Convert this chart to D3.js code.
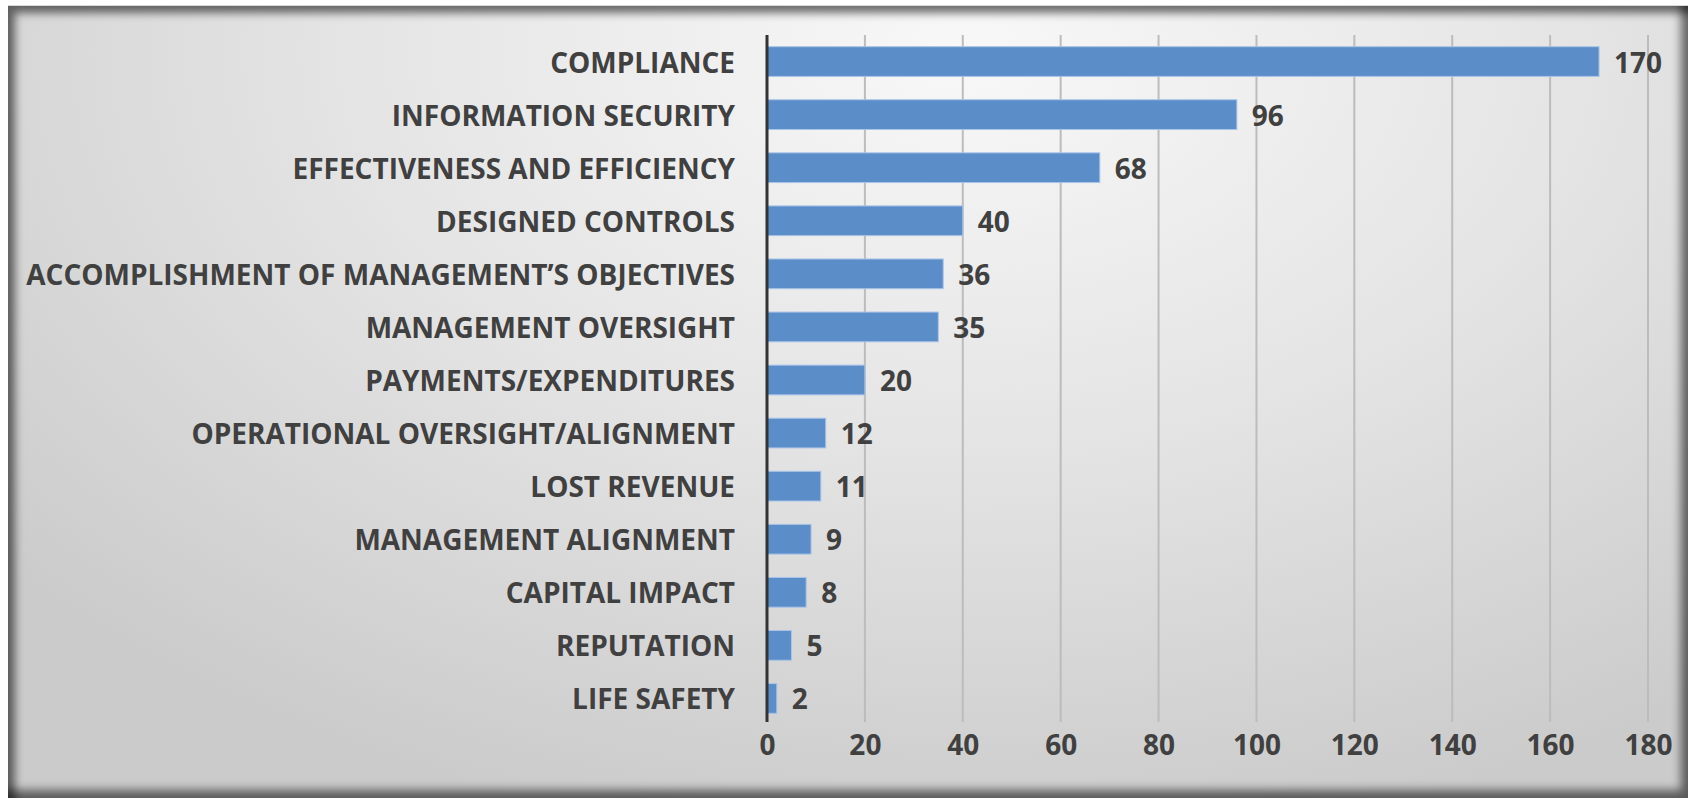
<!DOCTYPE html>
<html>
<head>
<meta charset="utf-8">
<script src="https://cdn.jsdelivr.net/npm/d3@7"></script>
<style>
  html, body { margin: 0; padding: 0; background: #ffffff; overflow: hidden; }
  #frame {
    position: absolute; left: 8px; top: 5px; width: 1680px; height: 792px;
    border-top: 1px solid #d8d8d8;
    background: radial-gradient(ellipse 75% 100% at 57% 6%, #f8f8f8 0%, #e4e4e4 50%, #cbcbcb 100%);
    box-shadow: inset 7px 7px 9px rgba(0,0,0,0.55), inset -7px -8px 10px rgba(0,0,0,0.55);
  }
  svg { position: absolute; left: 0; top: 0; }
  text { font-family: "Open Sans", "DejaVu Sans", sans-serif; font-weight: 700; fill: #404040; }
</style>
</head>
<body>
<div id="frame"></div>
<svg id="chart" width="1695" height="803"></svg>
<script>
// Categories, top to bottom, and their counts
const categories = [
  "COMPLIANCE",
  "INFORMATION SECURITY",
  "EFFECTIVENESS AND EFFICIENCY",
  "DESIGNED CONTROLS",
  "ACCOMPLISHMENT OF MANAGEMENT\u2019S OBJECTIVES",
  "MANAGEMENT OVERSIGHT",
  "PAYMENTS/EXPENDITURES",
  "OPERATIONAL OVERSIGHT/ALIGNMENT",
  "LOST REVENUE",
  "MANAGEMENT ALIGNMENT",
  "CAPITAL IMPACT",
  "REPUTATION",
  "LIFE SAFETY"
];
const values = [170, 96, 68, 40, 36, 35, 20, 12, 11, 9, 8, 5, 2];
const tickValues = [0, 20, 40, 60, 80, 100, 120, 140, 160, 180];

const data = categories.map((c, i) => ({ category: c, value: values[i] }));

const svg = d3.select("#chart");
const fontSize = 28;

const plot = { left: 767, right: 1648, top: 35, bottom: 725 };

const x = d3.scaleLinear().domain([0, 180]).range([plot.left, plot.right]);
const y = d3.scaleBand()
  .domain(categories)
  .range([plot.top, plot.bottom])
  .paddingInner(0.44)
  .paddingOuter(0.22);

// Vertical gridlines
svg.append("g")
  .selectAll("line")
  .data(tickValues.filter(t => t > 0))
  .join("line")
  .attr("x1", d => x(d)).attr("x2", d => x(d))
  .attr("y1", plot.top).attr("y2", plot.bottom - 3)
  .attr("stroke", "#bcbcbc")
  .attr("stroke-width", 2);

// Bars
svg.append("g")
  .selectAll("rect")
  .data(data)
  .join("rect")
  .attr("x", x(0))
  .attr("y", d => y(d.category))
  .attr("width", d => x(d.value) - x(0))
  .attr("height", y.bandwidth())
  .attr("fill", "#5b8dc9")
  .attr("stroke", "#a9c4e8")
  .attr("stroke-width", 1);

// Value labels
svg.append("g")
  .selectAll("text")
  .data(data)
  .join("text")
  .attr("x", d => x(d.value) + 15)
  .attr("y", d => y(d.category) + y.bandwidth() / 2)
  .attr("dominant-baseline", "central")
  .attr("font-size", fontSize)
  .text(d => d.value);

// Category axis (left)
const yAxis = d3.axisLeft(y).tickSize(0).tickPadding(32);
const gy = svg.append("g")
  .attr("transform", `translate(${x(0)},0)`)
  .call(yAxis);
gy.select(".domain")
  .attr("d", `M0,${plot.top}V${plot.bottom - 3}`)
  .attr("stroke", "#333333")
  .attr("stroke-width", 3);
gy.selectAll(".tick text")
  .attr("font-family", null)
  .attr("font-size", fontSize)
  .attr("fill", "#404040")
  .attr("dy", null)
  .attr("dominant-baseline", "central");

// Value axis (bottom), labels only
const xAxis = d3.axisBottom(x).tickValues(tickValues).tickSize(0).tickPadding(0);
const gx = svg.append("g")
  .attr("transform", `translate(0,744)`)
  .call(xAxis);
gx.select(".domain").remove();
gx.selectAll(".tick text")
  .attr("font-family", null)
  .attr("font-size", fontSize)
  .attr("fill", "#404040")
  .attr("y", 0)
  .attr("dy", null)
  .attr("dominant-baseline", "central");
</script>
</body>
</html>
